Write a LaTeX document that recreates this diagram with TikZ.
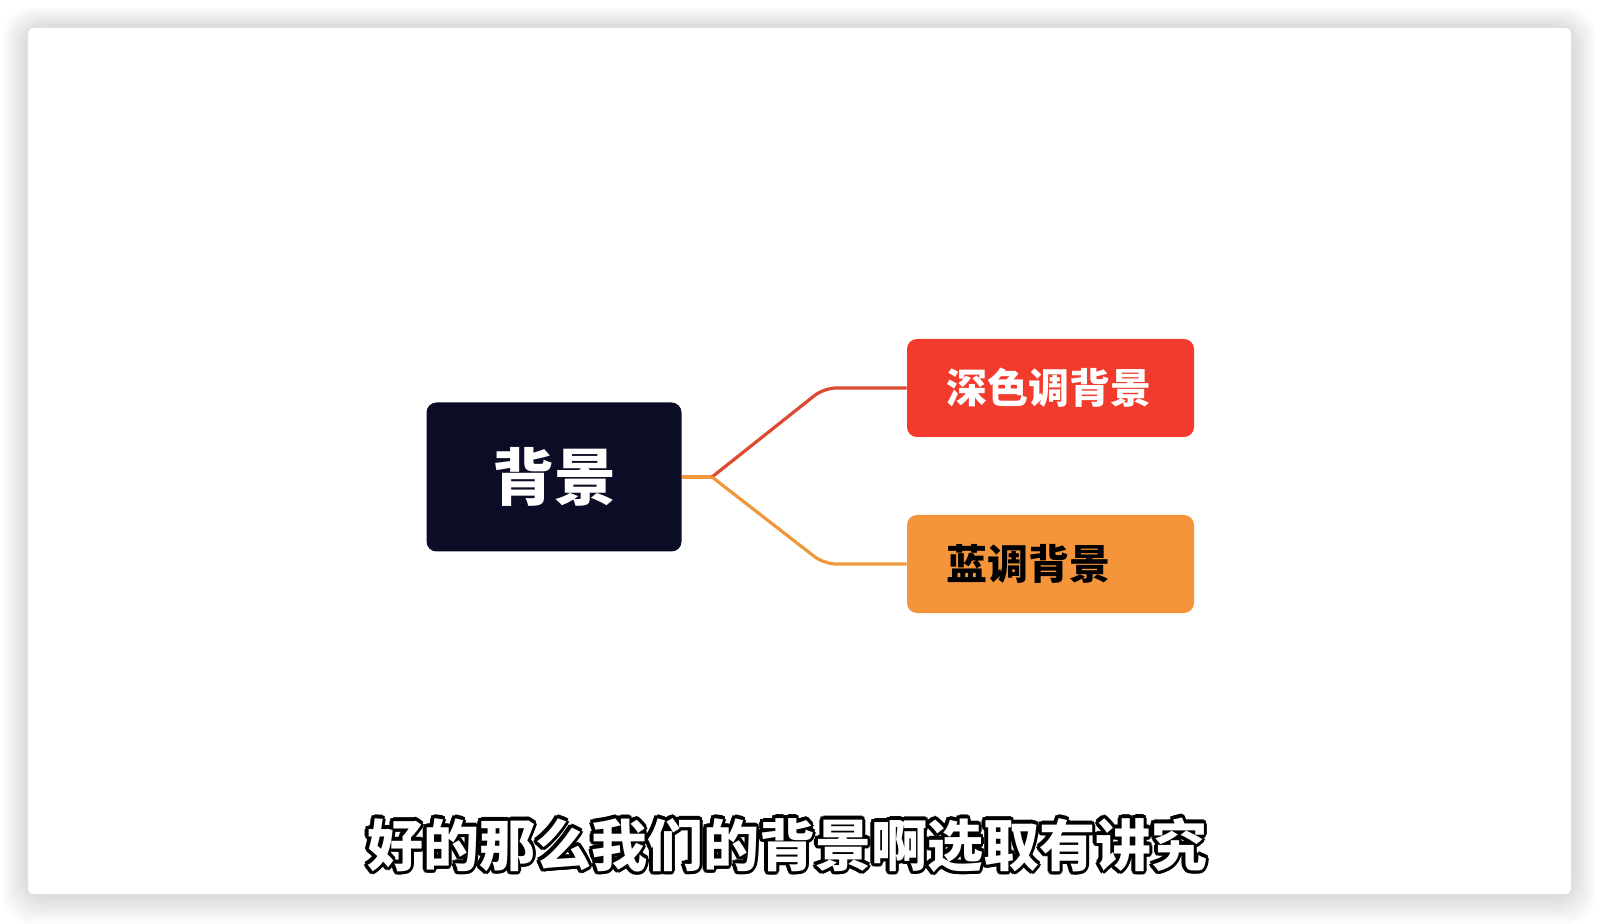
\documentclass[tikz,border=0pt]{standalone}
\usepackage{fontspec}
\newfontfamily\cjk{Noto Sans CJK SC}
\usetikzlibrary{positioning}

\definecolor{rootblue}{HTML}{0B0C26}
\definecolor{deepred}{HTML}{F23B2C}
\definecolor{lightorange}{HTML}{F5953B}
\definecolor{redline}{HTML}{DD4A32}
\definecolor{orangeline}{HTML}{F0983C}

\begin{document}
\begin{tikzpicture}
	[x=0.5pt,y=-0.5pt,
	rootbox/.style={rectangle,rounded corners=5pt,fill=rootblue,
		minimum width=127.5pt,minimum height=74.5pt,inner sep=0pt,
		text=white,font=\cjk\bfseries\fontsize{31}{31}\selectfont},
	branchbox/.style={rectangle,rounded corners=5pt,
		minimum height=49pt,text width=104.5pt,inner xsep=19.5pt,
		inner ysep=0pt,align=left,font=\cjk\bfseries\fontsize{20.5}{20.5}\selectfont},
	branch/.style={line width=1.6pt,rounded corners=6pt},
	subtext/.style={font=\cjk\bfseries\fontsize{28}{28}\selectfont,inner sep=0pt}]
	\useasboundingbox (0,0) rectangle (1600,924);
	\fill[white] (0,0) rectangle (1600,924);
	%  sombra de la tarjeta
	\foreach \i in {1,...,12}
		\fill[black,opacity=0.011,rounded corners=14pt]
		(27-2*\i,27-1.6*\i) rectangle (1572+2*\i,895+2.4*\i);
	\fill[white,draw=black!12,line width=1pt,rounded corners=3pt] (27,27) rectangle (1572,895);
	%  nodos
	\node[rootbox] (root) at (554,477) {背景};
	\node[branchbox,fill=deepred,text=white] (deep) at (1050.5,388) {深色调背景};
	\node[branchbox,fill=lightorange,text=black] (blue) at (1050.5,564) {蓝调背景};
	%  conexiones
	\coordinate (fork) at (712,477);
	\coordinate (bendup) at (824,388);
	\coordinate (benddown) at (824,564);
	\draw[branch,orangeline] (root.east) -- (fork);
	\draw[branch,redline] (fork) -- (bendup) -- (deep.west);
	\draw[branch,orangeline] (fork) -- (benddown) -- (blue.west);
	%  subtitulo
	\foreach \a in {0,22.5,...,337.5}
		\path[shift={(\a:1.6pt)}] node[subtext,text=black] (sub\a) at (787,845) {好的那么我们的背景啊选取有讲究};
	\node[subtext,text=white] (sub) at (787,845) {好的那么我们的背景啊选取有讲究};
\end{tikzpicture}
\end{document}
